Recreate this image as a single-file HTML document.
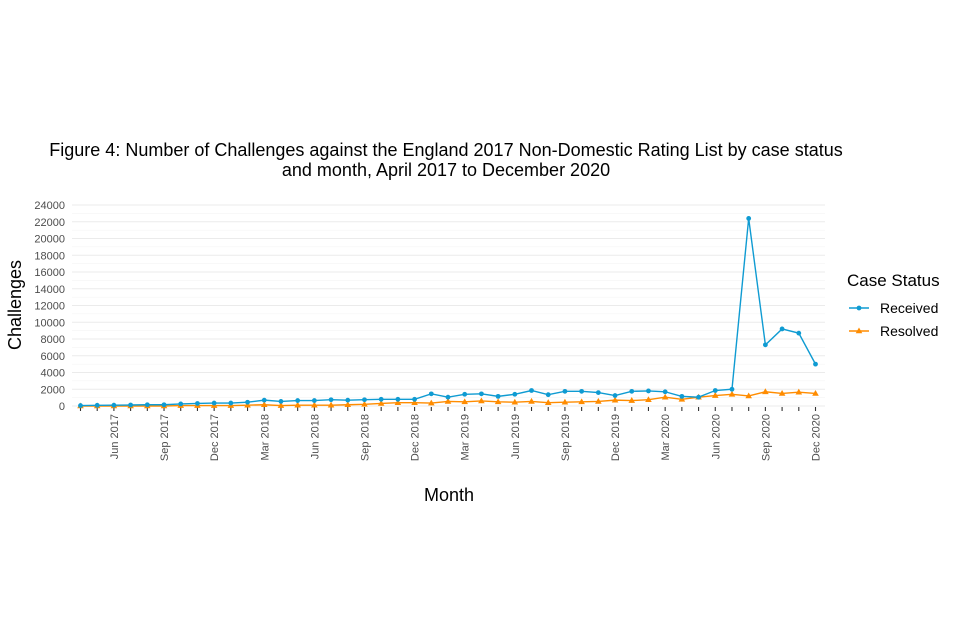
<!DOCTYPE html>
<html><head><meta charset="utf-8"><style>body{margin:0;background:#fff}svg{display:block;font-family:"Liberation Sans",sans-serif}</style></head>
<body>
<svg id="c" width="960" height="640"></svg>
<script>
const months=["Apr 2017","May 2017","Jun 2017","Jul 2017","Aug 2017","Sep 2017","Oct 2017","Nov 2017","Dec 2017","Jan 2018","Feb 2018","Mar 2018","Apr 2018","May 2018","Jun 2018","Jul 2018","Aug 2018","Sep 2018","Oct 2018","Nov 2018","Dec 2018","Jan 2019","Feb 2019","Mar 2019","Apr 2019","May 2019","Jun 2019","Jul 2019","Aug 2019","Sep 2019","Oct 2019","Nov 2019","Dec 2019","Jan 2020","Feb 2020","Mar 2020","Apr 2020","May 2020","Jun 2020","Jul 2020","Aug 2020","Sep 2020","Oct 2020","Nov 2020","Dec 2020"];
const received=[50,80,100,120,150,150,250,300,350,350,450,700,550,650,650,750,700,750,800,800,800,1450,1050,1400,1450,1150,1400,1850,1350,1750,1750,1600,1250,1750,1800,1700,1150,1050,1850,2000,22400,7300,9200,8700,5000];
const resolved=[0,0,0,0,0,0,50,50,50,50,100,150,50,100,100,100,150,200,300,400,400,350,550,500,600,500,450,550,400,450,500,550,700,650,750,1050,800,1050,1250,1400,1200,1700,1500,1650,1500];
const yTicks=[0,2000,4000,6000,8000,10000,12000,14000,16000,18000,20000,22000,24000];
const ns="http://www.w3.org/2000/svg",svg=document.getElementById('c');
function X(i){return 80.5+i*(735/44);}
function Y(v){return 406-v*201/24000;}
function el(t,a,txt){const e=document.createElementNS(ns,t);for(const k in a)e.setAttribute(k,a[k]);if(txt!==undefined)e.textContent=txt;svg.appendChild(e);return e;}
for(let v=1000;v<=24500;v+=2000){const g=el('line',{x1:72,x2:825,y1:Y(v),y2:Y(v),stroke:'#f2f2f2','stroke-width':0.6});

}
yTicks.forEach(v=>{const g=el('line',{x1:72,x2:825,y1:Y(v),y2:Y(v),stroke:'#ebebeb','stroke-width':1.1});


const t=el('text',{x:65,y:Y(v)+4,'text-anchor':'end','font-size':11,fill:'#4d4d4d'},v);

});
months.forEach((m,i)=>{const tk=el('line',{x1:X(i),x2:X(i),y1:407,y2:411,stroke:'#333','stroke-width':1.1});


if(/^(Jun|Sep|Dec|Mar)/.test(m)){const t=el('text',{x:0,y:0,'text-anchor':'end','font-size':11,fill:'#4d4d4d',transform:`translate(${X(i)+4},414) rotate(-90)`},m);

}});
function series(data,col,name,tri){const p=el('polyline',{points:data.map((v,i)=>X(i)+','+Y(v)).join(' '),fill:'none',stroke:col,'stroke-width':1.4});


data.forEach((v,i)=>{let m;if(tri){const x=X(i),y=Y(v);m=el('polygon',{points:`${x},${y-3.5} ${x-3.3},${y+2.3} ${x+3.3},${y+2.3}`,fill:col});}else m=el('circle',{cx:X(i),cy:Y(v),r:2.4,fill:col});

});}
series(resolved,'#ff8c00','resolved',true);
series(received,'#0f9bd2','received',false);
</script>
<svg style="position:absolute;left:0;top:0" width="960" height="640">
<text x="446" y="156" text-anchor="middle" font-size="18" fill="#000" font-family="Liberation Sans">Figure 4: Number of Challenges against the England 2017 Non-Domestic Rating List by case status</text>
<text x="446" y="176" text-anchor="middle" font-size="18" fill="#000" font-family="Liberation Sans">and month, April 2017 to December 2020</text>
<text transform="translate(21,305) rotate(-90)" text-anchor="middle" font-size="18" font-family="Liberation Sans">Challenges</text>
<text x="449" y="501" text-anchor="middle" font-size="18" font-family="Liberation Sans">Month</text>
<text x="847" y="286" font-size="17" font-family="Liberation Sans">Case Status</text>
<g><line x1="849" x2="869" y1="308" y2="308" stroke="#0f9bd2" stroke-width="1.4"/><circle cx="859" cy="308" r="2.4" fill="#0f9bd2"/><text x="880" y="313" font-size="14" font-family="Liberation Sans">Received</text></g>
<g><line x1="849" x2="869" y1="331" y2="331" stroke="#ff8c00" stroke-width="1.4"/><polygon points="859,327.5 855.7,333.3 862.3,333.3" fill="#ff8c00"/><text x="880" y="336" font-size="14" font-family="Liberation Sans">Resolved</text></g>
</svg>
</body></html>
